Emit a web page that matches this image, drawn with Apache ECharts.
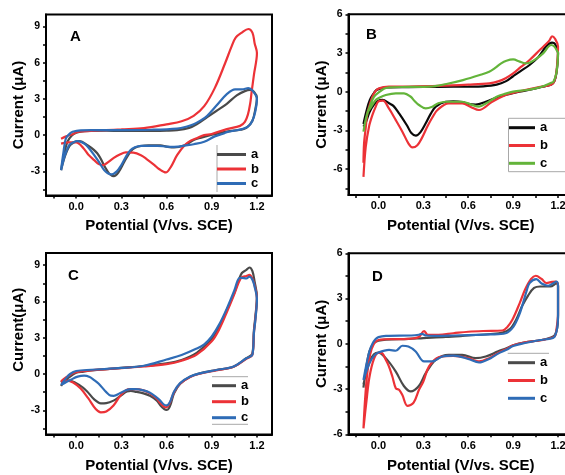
<!DOCTYPE html>
<html>
<head>
<meta charset="utf-8">
<script src="https://cdn.jsdelivr.net/npm/echarts@6/dist/echarts.min.js"></script>
<style>html,body{margin:0;padding:0;background:#fff}#c{width:565px;height:475px}</style>
</head>
<body>
<div id="c"></div>
<script>
// ---------- Data (Potential V vs SCE, Current µA) ----------
const panelLetters = ['A', 'B', 'C', 'D'];
const seriesNames = ['a', 'b', 'c'];
const xTickLabels = [0, 0.3, 0.6, 0.9, 1.2];
const xMinorTicks = [-0.15, 0, 0.15, 0.3, 0.45, 0.6, 0.75, 0.9, 1.05, 1.2];
const yLabelsAC = [-3, 0, 3, 6, 9];
const yTicksAC = [-4.5, -3, -1.5, 0, 1.5, 3, 4.5, 6, 7.5, 9];
const yLabelsBD = [-6, -3, 0, 3, 6];
const yTicksB = [-7.5, -6, -4.5, -3, -1.5, 0, 1.5, 3, 4.5, 6];
const yTicksD = [-6, -4.5, -3, -1.5, 0, 1.5, 3, 4.5, 6];

// Panel A
const A_a = [[-0.1,-2.9],[-0.08,-1.6],[-0.058,-0.55],[-0.03,-0.05],[0.0,0.2],[0.03,0.3],[0.1,0.35],[0.2,0.37],[0.3,0.35],[0.45,0.35],[0.6,0.38],[0.67,0.42],[0.75,0.6],[0.8,0.9],[0.87,1.5],[0.93,2.0],[1.0,2.6],[1.066,3.3],[1.12,3.65],[1.155,3.75],[1.18,3.6],[1.2,3.1],
  [1.19,2.2],[1.17,1.2],[1.13,0.6],[1.09,0.45],[1.0,0.3],[0.89,0.0],[0.83,-0.2],[0.78,-0.41],[0.72,-0.83],[0.65,-1.02],[0.6,-0.95],[0.56,-0.85],[0.48,-0.85],[0.43,-0.9],[0.39,-1.05],[0.36,-1.38],[0.32,-2.2],[0.28,-3.1],[0.25,-3.4],[0.22,-3.2],[0.197,-2.76],[0.14,-1.5],[0.075,-0.83],[0.02,-0.5],[-0.035,-0.77],[-0.07,-1.6],[-0.1,-2.9]];
const A_b = [[-0.1,-0.3],[-0.062,-0.08],[-0.02,0.1],[0.01,0.27],[0.1,0.35],[0.2,0.42],[0.3,0.48],[0.45,0.58],[0.6,0.9],[0.7,1.15],[0.78,1.6],[0.85,2.4],[0.92,3.9],[0.99,6.0],[1.03,7.3],[1.06,8.1],[1.1,8.5],[1.143,8.8],[1.17,8.5],[1.185,7.6],[1.2,6.8],
  [1.18,5.0],[1.165,3.6],[1.155,2.6],[1.14,1.7],[1.12,1.1],[1.088,0.77],[1.0,0.5],[0.9,0.1],[0.85,0.0],[0.8,-0.25],[0.76,-0.45],[0.72,-0.83],[0.67,-1.66],[0.63,-2.6],[0.595,-3.09],[0.55,-2.8],[0.52,-2.48],[0.47,-2.0],[0.43,-1.66],[0.38,-1.45],[0.33,-1.43],[0.29,-1.6],[0.25,-1.88],[0.2,-2.35],[0.18,-2.48],[0.15,-2.4],[0.12,-2.07],[0.08,-1.6],[0.05,-1.1],[0.0,-0.6],[-0.05,-0.6],[-0.1,-0.7]];
const A_c = [[-0.1,-2.9],[-0.085,-1.5],[-0.068,-0.27],[-0.04,0.15],[-0.024,0.28],[0.03,0.4],[0.1,0.42],[0.3,0.42],[0.5,0.45],[0.67,0.55],[0.73,0.7],[0.78,0.91],[0.83,1.25],[0.87,1.6],[0.93,2.43],[1.0,3.4],[1.055,3.8],[1.1,3.8],[1.143,3.9],[1.17,3.7],[1.2,3.0],
  [1.19,2.0],[1.17,1.2],[1.14,0.7],[1.1,0.5],[1.0,0.25],[0.98,0.14],[0.92,-0.1],[0.85,-0.55],[0.78,-0.75],[0.74,-0.83],[0.65,-0.97],[0.6,-0.95],[0.54,-0.88],[0.43,-0.88],[0.39,-1.0],[0.36,-1.24],[0.33,-1.8],[0.3,-2.48],[0.27,-3.0],[0.235,-3.25],[0.21,-3.15],[0.186,-2.9],[0.15,-2.2],[0.12,-1.66],[0.08,-1.0],[0.053,-0.69],[0.01,-0.5],[-0.02,-0.6],[-0.046,-0.83],[-0.075,-1.7],[-0.1,-2.9]];

// Panel B
const B_a = [[-0.1,-2.5],[-0.08,-1.5],[-0.058,-0.65],[-0.03,-0.1],[-0.013,0.13],[0.02,0.28],[0.053,0.34],[0.2,0.36],[0.4,0.38],[0.6,0.39],[0.7,0.42],[0.79,0.55],[0.85,0.8],[0.9,1.2],[0.95,1.6],[1.01,2.07],[1.07,2.7],[1.12,3.5],[1.16,3.8],[1.18,3.7],[1.2,3.0],
  [1.19,1.5],[1.175,0.8],[1.155,0.55],[1.12,0.45],[1.05,0.25],[0.94,0.0],[0.87,-0.2],[0.806,-0.39],[0.717,-0.78],[0.65,-1.0],[0.6,-0.95],[0.56,-0.8],[0.5,-0.75],[0.45,-0.78],[0.383,-1.16],[0.35,-1.7],[0.316,-2.45],[0.28,-3.15],[0.25,-3.4],[0.22,-3.2],[0.19,-2.6],[0.138,-1.68],[0.1,-1.1],[0.071,-0.9],[0.027,-0.64],[0.0,-0.7],[-0.03,-1.0],[-0.06,-1.6],[-0.085,-2.4],[-0.1,-2.7]];
const B_b = [[-0.1,-5.5],[-0.096,-4.0],[-0.085,-2.8],[-0.074,-1.7],[-0.055,-0.9],[-0.04,-0.39],[-0.02,0.05],[0.004,0.26],[0.07,0.39],[0.2,0.4],[0.4,0.45],[0.6,0.55],[0.74,0.65],[0.8,0.8],[0.85,1.05],[0.9,1.42],[0.95,1.9],[1.01,2.46],[1.078,3.23],[1.12,3.7],[1.144,4.0],[1.16,4.3],[1.18,4.1],[1.2,3.5],
  [1.19,1.6],[1.175,0.8],[1.155,0.55],[1.12,0.45],[1.05,0.3],[0.98,0.13],[0.9,-0.1],[0.85,-0.26],[0.76,-0.78],[0.672,-1.42],[0.62,-1.2],[0.56,-0.9],[0.47,-0.9],[0.394,-1.42],[0.36,-2.0],[0.327,-2.7],[0.29,-3.6],[0.26,-4.15],[0.227,-4.32],[0.2,-4.0],[0.16,-3.1],[0.116,-2.2],[0.07,-1.3],[0.03,-0.69],[0.0,-0.75],[-0.018,-1.16],[-0.04,-1.8],[-0.063,-2.71],[-0.085,-4.3],[-0.1,-6.6]];
const B_c = [[-0.1,-3.1],[-0.08,-1.9],[-0.058,-1.16],[-0.03,-0.4],[0.009,0.0],[0.04,0.25],[0.076,0.34],[0.2,0.37],[0.343,0.39],[0.454,0.6],[0.565,0.9],[0.677,1.29],[0.74,1.55],[0.78,1.85],[0.82,2.2],[0.855,2.4],[0.9,2.5],[0.944,2.33],[0.98,2.2],[1.01,2.25],[1.06,2.6],[1.1,2.97],[1.155,3.62],[1.175,3.5],[1.19,3.23],[1.2,3.0],
  [1.19,1.5],[1.17,0.8],[1.155,0.7],[1.08,0.34],[1.0,0.15],[0.9,0.0],[0.85,-0.15],[0.79,-0.39],[0.72,-0.9],[0.672,-1.16],[0.62,-1.0],[0.56,-0.78],[0.45,-0.78],[0.4,-0.9],[0.36,-1.16],[0.316,-1.29],[0.271,-1.03],[0.24,-0.7],[0.216,-0.39],[0.171,-0.13],[0.116,-0.13],[0.049,-0.26],[0.0,-0.5],[-0.018,-0.64],[-0.05,-1.2],[-0.074,-1.68],[-0.1,-3.1]];

// Panel C
const C_a = [[-0.1,-1.0],[-0.08,-0.6],[-0.05,-0.3],[0.0,0.1],[0.05,0.2],[0.1,0.3],[0.3,0.5],[0.45,0.66],[0.6,0.88],[0.7,1.16],[0.8,1.75],[0.9,2.9],[0.95,3.9],[1.0,5.3],[1.05,6.7],[1.08,7.8],[1.1,8.35],[1.13,8.6],[1.15,8.8],[1.17,8.5],[1.185,7.6],[1.2,6.4],
  [1.19,4.8],[1.18,3.6],[1.17,1.7],[1.13,1.3],[1.045,0.6],[0.93,0.33],[0.82,0.05],[0.757,-0.22],[0.69,-0.8],[0.65,-1.6],[0.63,-2.4],[0.615,-2.85],[0.6,-2.97],[0.585,-2.9],[0.56,-2.6],[0.536,-2.2],[0.49,-1.8],[0.447,-1.6],[0.39,-1.45],[0.363,-1.4],[0.336,-1.45],[0.29,-1.85],[0.248,-2.2],[0.2,-2.4],[0.164,-2.42],[0.12,-2.1],[0.07,-1.4],[0.02,-0.9],[-0.04,-0.55],[-0.08,-0.5],[-0.1,-0.7]];
const C_b = [[-0.1,-0.6],[-0.07,-0.3],[-0.03,0.0],[0.0,0.15],[0.1,0.3],[0.3,0.48],[0.45,0.62],[0.6,0.82],[0.7,1.1],[0.8,1.6],[0.9,2.7],[0.95,3.7],[1.0,5.1],[1.05,6.6],[1.08,7.6],[1.1,8.0],[1.13,8.1],[1.15,8.2],[1.17,7.9],[1.185,7.3],[1.2,6.3],
  [1.19,4.6],[1.18,3.4],[1.17,1.6],[1.13,1.25],[1.045,0.6],[0.93,0.3],[0.82,0.02],[0.757,-0.25],[0.69,-0.8],[0.65,-1.5],[0.625,-2.3],[0.61,-2.65],[0.595,-2.75],[0.578,-2.65],[0.555,-2.35],[0.536,-2.05],[0.49,-1.6],[0.447,-1.35],[0.39,-1.25],[0.36,-1.25],[0.33,-1.35],[0.29,-1.85],[0.248,-2.6],[0.2,-3.1],[0.164,-3.17],[0.13,-2.9],[0.08,-2.0],[0.03,-1.2],[-0.02,-0.7],[-0.06,-0.55],[-0.1,-0.7]];
const C_c = [[-0.1,-0.9],[-0.07,-0.4],[-0.04,0.0],[0.0,0.25],[0.1,0.35],[0.3,0.5],[0.45,0.68],[0.6,1.2],[0.7,1.57],[0.8,2.1],[0.85,2.45],[0.9,3.1],[0.95,4.1],[1.0,5.4],[1.05,6.9],[1.08,7.9],[1.1,7.95],[1.13,7.9],[1.15,8.04],[1.17,7.8],[1.185,7.2],[1.2,6.2],
  [1.19,4.5],[1.18,3.4],[1.17,1.6],[1.13,1.3],[1.045,0.62],[0.93,0.33],[0.82,0.05],[0.757,-0.2],[0.69,-0.75],[0.65,-1.45],[0.627,-2.2],[0.612,-2.52],[0.598,-2.6],[0.58,-2.5],[0.558,-2.2],[0.536,-1.95],[0.49,-1.55],[0.447,-1.35],[0.39,-1.25],[0.363,-1.25],[0.33,-1.35],[0.29,-1.6],[0.25,-1.8],[0.23,-1.79],[0.2,-1.5],[0.15,-0.8],[0.12,-0.5],[0.09,-0.25],[0.053,-0.14],[0.01,-0.22],[-0.035,-0.47],[-0.07,-0.7],[-0.1,-0.9]];

// Panel D
const D_a = [[-0.1,-2.9],[-0.085,-1.8],[-0.06,-0.5],[-0.03,0.05],[0.0,0.2],[0.05,0.28],[0.2,0.33],[0.3,0.38],[0.45,0.45],[0.6,0.55],[0.75,0.65],[0.83,0.75],[0.88,1.0],[0.92,1.6],[0.96,2.5],[1.0,3.2],[1.04,3.7],[1.08,3.8],[1.15,3.8],[1.19,4.0],[1.2,3.8],
  [1.2,1.8],[1.18,0.6],[1.12,0.32],[1.06,0.2],[0.98,0.1],[0.9,-0.1],[0.855,-0.3],[0.8,-0.5],[0.717,-0.84],[0.65,-0.95],[0.56,-0.73],[0.47,-0.73],[0.383,-1.06],[0.316,-1.95],[0.27,-2.8],[0.216,-3.16],[0.17,-2.8],[0.116,-1.84],[0.049,-0.95],[0.0,-0.58],[-0.03,-0.7],[-0.06,-1.2],[-0.1,-2.7]];
const D_b = [[-0.1,-5.6],[-0.09,-3.8],[-0.075,-2.0],[-0.055,-0.7],[-0.03,0.0],[0.0,0.25],[0.05,0.3],[0.2,0.33],[0.27,0.45],[0.305,0.85],[0.33,0.6],[0.4,0.6],[0.5,0.7],[0.6,0.8],[0.7,0.85],[0.828,0.88],[0.86,1.1],[0.895,1.59],[0.944,2.7],[0.98,3.6],[1.02,4.3],[1.051,4.51],[1.09,4.3],[1.122,4.03],[1.16,4.1],[1.184,4.13],[1.2,3.9],
  [1.2,2.0],[1.19,1.0],[1.178,0.5],[1.12,0.3],[1.06,0.2],[0.98,0.1],[0.9,-0.1],[0.855,-0.35],[0.8,-0.6],[0.74,-0.95],[0.672,-1.17],[0.6,-0.95],[0.5,-0.8],[0.405,-0.88],[0.338,-1.5],[0.3,-2.5],[0.271,-3.05],[0.235,-3.9],[0.194,-4.11],[0.16,-3.4],[0.138,-3.05],[0.116,-2.94],[0.093,-2.17],[0.07,-1.5],[0.049,-1.06],[0.02,-0.6],[0.0,-0.6],[-0.03,-1.0],[-0.06,-2.2],[-0.08,-3.8],[-0.1,-5.6]];
const D_c = [[-0.1,-2.4],[-0.085,-1.6],[-0.06,-0.5],[-0.04,0.0],[-0.02,0.3],[0.0,0.44],[0.05,0.52],[0.22,0.55],[0.27,0.6],[0.29,0.66],[0.32,0.55],[0.4,0.52],[0.5,0.55],[0.6,0.58],[0.75,0.62],[0.85,0.7],[0.9,1.1],[0.94,1.9],[0.966,2.7],[0.99,3.5],[1.01,4.03],[1.055,4.29],[1.09,4.0],[1.133,3.85],[1.165,4.0],[1.19,4.13],[1.2,3.8],
  [1.2,1.84],[1.178,0.49],[1.12,0.3],[1.08,0.25],[0.98,0.05],[0.9,-0.15],[0.855,-0.4],[0.8,-0.65],[0.75,-0.95],[0.672,-1.24],[0.6,-1.0],[0.5,-0.78],[0.427,-0.84],[0.36,-1.17],[0.305,-1.17],[0.249,-0.51],[0.2,-0.18],[0.16,-0.13],[0.116,-0.46],[0.071,-0.4],[0.0,-0.58],[-0.03,-0.8],[-0.06,-1.3],[-0.1,-2.4]];

const panelData = [[A_a, A_b, A_c], [B_a, B_b, B_c], [C_a, C_b, C_c], [D_a, D_b, D_c]];
const yRanges = [[-5, 10], [-8, 6], [-5, 10], [-6, 6]];
const yLabelSets = [yLabelsAC, yLabelsBD, yLabelsAC, yLabelsBD];
const yTickSets = [yTicksAC, yTicksB, yTicksAC, yTicksD];
const yTitles = ['Current (μA)', 'Current (μA)', 'Current(μA)', 'Current (μA)'];
const xTitle = 'Potential (V/vs. SCE)';

// ---------- Styling / layout ----------
const FONT = '"Liberation Sans", Arial, sans-serif';
const COLORS = [
  ['#4a4a4a', '#ec3237', '#2f6cb6'],
  ['#0a0a0a', '#ec3237', '#63b43a'],
  ['#4a4a4a', '#ec3237', '#2f6cb6'],
  ['#4a4a4a', '#ec3237', '#2f6cb6']
];
const grids = [
  {left: 46, top: 14.5, width: 226, height: 181},
  {left: 348.5, top: 14.3, width: 224.5, height: 180.6},
  {left: 46, top: 253, width: 226, height: 181.5},
  {left: 348.5, top: 253.3, width: 224.5, height: 181}
];
const letterPos = [[70, 29], [366, 27], [68, 268], [372, 269]];
const legendPos = [
  {left: 217, top: 147.5, itemWidth: 29, itemGap: 0.5},
  {left: 509, top: 120.7, itemWidth: 26, itemGap: 3.8},
  {left: 212, top: 378.7, itemWidth: 24, itemGap: 2},
  {left: 508, top: 355.7, itemWidth: 27, itemGap: 3.8}
];
const yNamePadding = [[0, 0, 0, 0], [0, 0, 0, 0], [0, 0, 0, 28], [0, 0, 0, 0]];

const chart = echarts.init(document.getElementById('c'), null, {renderer: 'canvas'});

const xAxes = [], yAxes = [], series = [], legends = [], titles = [];
for (let i = 0; i < 4; i++) {
  const P = panelLetters[i];
  xAxes.push({
    type: 'value', gridIndex: i, min: -0.2, max: 1.3,
    axisLine: {show: true, onZero: false, lineStyle: {color: '#000', width: 2}},
    axisTick: {show: true, length: 3, lineStyle: {color: '#000', width: 1.5}, customValues: xMinorTicks},
    axisLabel: {customValues: xTickLabels, formatter: v => v.toFixed(1), color: '#000', fontWeight: 'bold', fontSize: 11, fontFamily: FONT, margin: 6},
    splitLine: {show: false},
    name: xTitle, nameLocation: 'middle', nameGap: i < 2 ? 23 : 24,
    nameTextStyle: {color: '#000', fontWeight: 'bold', fontSize: 15, fontFamily: FONT}
  });
  yAxes.push({
    type: 'value', gridIndex: i, min: yRanges[i][0], max: yRanges[i][1],
    axisLine: {show: true, onZero: false, lineStyle: {color: '#000', width: 2}},
    axisTick: {show: true, length: 3, lineStyle: {color: '#000', width: 1.5}, customValues: yTickSets[i]},
    axisLabel: {customValues: yLabelSets[i], color: '#000', fontWeight: 'bold', fontSize: 10.5, fontFamily: FONT, margin: 6},
    splitLine: {show: false},
    name: yTitles[i], nameLocation: 'middle', nameGap: 18,
    nameTextStyle: {color: '#000', fontWeight: 'bold', fontSize: 15, fontFamily: FONT, padding: yNamePadding[i]}
  });
  const names = [];
  for (let k = 0; k < 3; k++) {
    const nm = P + '·' + seriesNames[k];
    names.push(nm);
    series.push({
      name: nm, type: 'line', xAxisIndex: i, yAxisIndex: i,
      data: panelData[i][k], showSymbol: false, smooth: 0.35,
      lineStyle: {width: 2.2, color: COLORS[i][k]}, itemStyle: {color: COLORS[i][k]},
      z: 3 + k, animation: false
    });
  }
  const lp = legendPos[i];
  legends.push({
    data: names, orient: 'vertical', left: lp.left, top: lp.top,
    itemWidth: lp.itemWidth, itemHeight: 3, itemGap: lp.itemGap, icon: 'rect', padding: 0,
    formatter: n => n.slice(-1), selectedMode: false,
    textStyle: {color: '#000', fontWeight: 'bold', fontSize: 13, lineHeight: 14, fontFamily: FONT, padding: [0, 0, 0, 0]}
  });
  titles.push({
    text: P, left: letterPos[i][0], top: letterPos[i][1], padding: 0,
    textStyle: {color: '#000', fontWeight: 'bold', fontSize: 15, fontFamily: FONT}
  });
}

const gray = {stroke: '#a8a8a8', lineWidth: 1};
const graphic = [
  {type: 'line', shape: {x1: 217, y1: 145, x2: 217, y2: 192}, style: gray},
  {type: 'line', shape: {x1: 508.5, y1: 118.3, x2: 565, y2: 118.3}, style: gray},
  {type: 'line', shape: {x1: 508.5, y1: 118.3, x2: 508.5, y2: 171.7}, style: gray},
  {type: 'line', shape: {x1: 508.5, y1: 171.7, x2: 565, y2: 171.7}, style: gray},
  {type: 'line', shape: {x1: 212, y1: 376.7, x2: 248, y2: 376.7}, style: gray},
  {type: 'line', shape: {x1: 212, y1: 424.3, x2: 248, y2: 424.3}, style: gray},
  {type: 'line', shape: {x1: 507.7, y1: 353.3, x2: 549, y2: 353.3}, style: gray}
];

chart.setOption({
  animation: false,
  backgroundColor: '#fff',
  textStyle: {fontFamily: FONT},
  title: titles,
  grid: grids.map(g => Object.assign({show: true, borderColor: '#000', borderWidth: 2, backgroundColor: 'transparent', containLabel: false, outerBoundsMode: 'none'}, g)),
  xAxis: xAxes,
  yAxis: yAxes,
  legend: legends,
  series: series,
  graphic: graphic
});
</script>
</body>
</html>
